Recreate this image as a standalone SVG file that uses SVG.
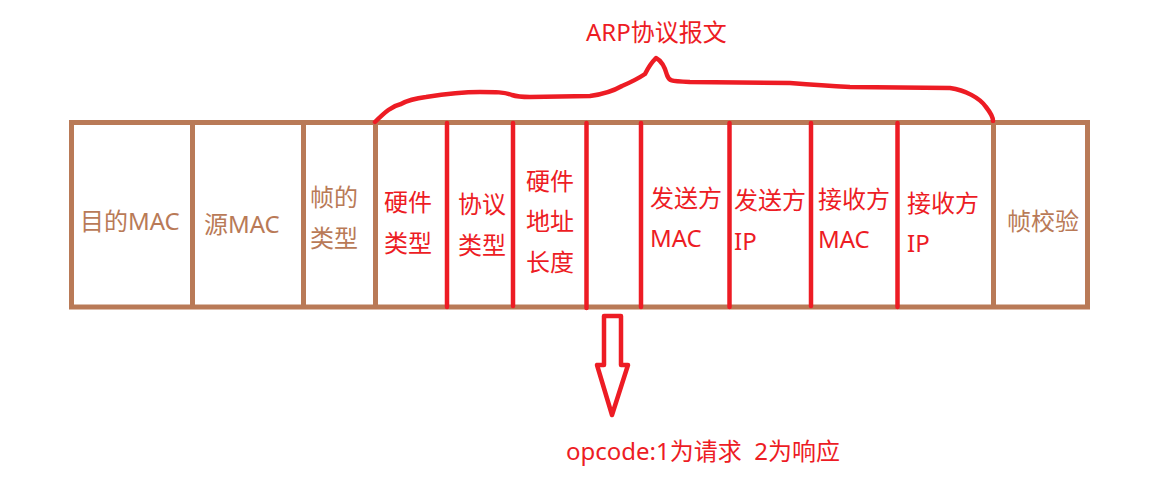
<svg xmlns="http://www.w3.org/2000/svg" width="1167" height="493" viewBox="0 0 1167 493">
<style>
text{font-family:"Noto Sans","Noto Sans CJK SC",sans-serif;font-size:24px}
.b{fill:#b97a57}
.r{fill:#ed1c24}
.bl{stroke:#b97a57;stroke-width:5;fill:none}
.rl{stroke:#ed1c24;stroke-width:4.5;fill:none;stroke-linecap:round;stroke-linejoin:round}
</style>
<rect width="1167" height="493" fill="#fff"/>
<g id="frame">
<rect class="bl" x="71.5" y="122.5" width="1016" height="184.5"/>
<line class="bl" x1="192.5" y1="122" x2="192.5" y2="307"/>
<line class="bl" x1="303.5" y1="122" x2="303.5" y2="307"/>
<line class="bl" x1="375.5" y1="122" x2="375.5" y2="307"/>
<line class="bl" x1="993.5" y1="122" x2="993.5" y2="307"/>
</g>
<g id="connectors">
<line class="rl" x1="447" y1="123" x2="447" y2="307"/>
<line class="rl" x1="513" y1="123" x2="513" y2="306"/>
<line class="rl" x1="586.5" y1="123" x2="586.5" y2="308"/>
<line class="rl" x1="641" y1="123" x2="641" y2="307"/>
<line class="rl" x1="729.5" y1="123" x2="729.5" y2="307"/>
<line class="rl" x1="811" y1="123" x2="811" y2="306"/>
<line class="rl" x1="897.5" y1="123" x2="897.5" y2="307"/>
<path class="rl" d="M375,122 C385,112 392,106 401,104 C410,99 418,98 426,97 C445,94 465,92 480,92 C495,92 505,92 512,95 C518,97 522,97 530,97 L590,96 C605,94 615,90 622,86 C636,80 642,76 645,74 C648,68 652,62 656,58 C660,60 664,64 667,75 C669,81 670,81 690,82 L790,83 C815,85 830,86 850,87 L950,88 C965,90 980,98 986,107 C990,112 993,117 993,121"/>
<polygon class="rl" points="604,316 621,316 621,365 628,365 612,415 597,365 604,365"/>
</g>
<g id="n-dstmac"><text class="b" x="80" y="230">目的MAC</text></g>
<g id="n-srcmac"><text class="b" x="204" y="233">源MAC</text></g>
<g id="n-type"><text class="b" x="310" y="206">帧的</text><text class="b" x="310" y="247">类型</text></g>
<g id="n-hwtype"><text class="r" x="384" y="211">硬件</text><text class="r" x="384" y="252">类型</text></g>
<g id="n-prototype"><text class="r" x="458" y="213">协议</text><text class="r" x="458" y="254">类型</text></g>
<g id="n-hwlen"><text class="r" x="526" y="190">硬件</text><text class="r" x="526" y="230">地址</text><text class="r" x="526" y="271">长度</text></g>
<g id="n-opcode"></g>
<g id="n-sendmac"><text class="r" x="650" y="207">发送方</text><text class="r" x="650" y="247">MAC</text></g>
<g id="n-sendip"><text class="r" x="734" y="209">发送方</text><text class="r" x="734" y="250">IP</text></g>
<g id="n-recvmac"><text class="r" x="818" y="208">接收方</text><text class="r" x="818" y="248">MAC</text></g>
<g id="n-recvip"><text class="r" x="907" y="212">接收方</text><text class="r" x="907" y="252">IP</text></g>
<g id="n-fcs"><text class="b" x="1007" y="230">帧校验</text></g>
<g id="n-arp"><text class="r" x="586" y="41">ARP协议报文</text></g>
<g id="n-opcodetext"><text class="r" x="566" y="460" xml:space="preserve">opcode:1为请求  2为响应</text></g>
</svg>
